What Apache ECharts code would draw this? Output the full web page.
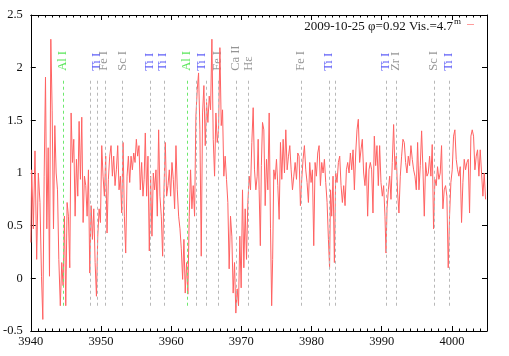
<!DOCTYPE html>
<html><head><meta charset="utf-8">
<script src="https://cdn.jsdelivr.net/npm/echarts@6/dist/echarts.min.js"></script>
<style>html,body{margin:0;padding:0;background:#fff}#c{width:509px;height:356px}</style>
</head><body><div id="c"></div><script>
const wavelength = [
3940.01,3940.25,3940.48,3940.72,3940.96,3941.19,3941.43,3941.62,3941.81,3942.00,3942.19,3942.38,3942.57,3942.76,3942.95,3943.14,3943.33,3943.52,3943.71,3943.90,
3944.09,3944.32,3944.51,3944.70,3944.89,3945.08,3945.27,3945.46,3945.65,3945.84,3946.03,3946.22,3946.41,3946.60,3946.79,3946.98,3947.17,3947.36,3947.55,3947.74,
3947.93,3948.12,3948.31,3948.50,3948.69,3948.88,3949.07,3949.26,3949.45,3949.64,3949.83,3950.02,3950.20,3950.39,3950.58,3950.77,3950.96,3951.15,3951.34,3951.53,
3951.72,3951.91,3952.10,3952.29,3952.48,3952.67,3952.86,3953.05,3953.24,3953.43,3953.62,3953.81,3954.00,3954.19,3954.38,3954.57,3954.76,3954.95,3955.13,3955.32,
3955.51,3955.70,3955.89,3956.08,
3956.22,3956.41,3956.60,3956.79,3956.98,3957.17,3957.36,3957.55,3957.74,3957.93,3958.12,3958.31,3958.50,3958.69,3958.88,3959.07,3959.26,3959.45,3959.64,3959.83,
3960.02,3960.21,3960.40,3960.59,3960.78,3960.97,3961.16,3961.35,3961.54,3961.73,3961.91,3962.10,3962.29,3962.48,3962.67,3962.86,3963.05,3963.24,3963.43,3963.62,
3963.81,3964.00,3964.19,3964.38,3964.57,3964.76,3964.95,3965.14,3965.33,3965.52,3965.71,3965.90,3966.09,3966.28,3966.47,3966.66,3966.85,3967.04,3967.23,3967.41,
3967.60,3967.79,3967.98,3968.17,3968.36,3968.55,3968.74,3968.93,3969.12,3969.31,3969.50,3969.69,3969.88,3970.07,3970.26,3970.45,3970.64,3970.83,3971.02,3971.21,
3971.40,3971.59,3971.78,3971.97,3972.16,3972.35,
3972.44,3972.63,3972.78,3972.92,3973.11,3973.30,3973.49,3973.68,3973.87,3974.06,3974.25,3974.39,3974.53,3974.72,3974.91,3975.10,3975.29,3975.48,3975.67,3975.86,
3976.05,3976.24,3976.43,3976.62,3976.81,3977.00,3977.19,3977.38,3977.57,3977.76,3977.95,3978.13,3978.32,3978.51,3978.70,3978.89,3979.08,3979.27,3979.46,3979.65,
3979.84,3980.03,3980.22,3980.41,3980.60,3980.79,3980.98,3981.17,3981.36,3981.55,3981.74,3981.93,3982.12,3982.31,3982.50,3982.64,3982.78,3982.97,3983.16,3983.35,
3983.54,3983.73,3983.92,3984.11,3984.30,3984.49,3984.68,3984.87,3985.06,3985.25,3985.44,3985.63,3985.82,3986.01,3986.20,3986.39,3986.57,3986.76,3986.95,3987.14,
3987.33,3987.52,3987.71,3987.90,3988.09,3988.28,3988.47,
3988.66,3988.85,3989.04,3989.23,3989.42,3989.61,3989.80,3989.99,3990.18,3990.37,3990.56,3990.66,3990.85,3991.04,3991.23,3991.41,3991.60,3991.79,3991.98,3992.17,
3992.36,3992.55,3992.74,3992.93,3993.12,3993.31,3993.50,3993.69,3993.88,3994.07,3994.26,3994.45,3994.64,3994.83,3995.02,3995.21,3995.40,3995.59,3995.78,3995.97,
3996.16,3996.35,3996.54,3996.73,3996.92,3997.10,3997.29,3997.48,3997.67,3997.86,3998.05,3998.24,3998.43,3998.62,3998.81,3999.00,3999.19,3999.38,3999.57,3999.76,
3999.95,4000.14,4000.33,4000.52,4000.71,4000.90,4001.09,4001.28,4001.47,4001.66,4001.85,4002.04,4002.23,4002.42,4002.61,4002.80,4002.99,4003.18,4003.37,4003.56,
4003.75,4003.94,4004.13,4004.32,4004.51,4004.70,4004.89
];
const flux = [
0.34,1.03,0.47,1.21,0.18,1.00,0.72,0.02,-0.39,0.97,1.91,0.47,1.24,0.02,2.27,1.59,0.47,1.45,1.00,0.84,
0.18,-0.26,0.15,-0.07,0.59,-0.26,0.72,0.59,0.10,1.57,1.10,1.32,0.59,1.13,0.78,1.49,0.94,1.53,0.53,0.97,
0.88,0.59,1.03,0.05,0.69,0.37,0.66,0.15,-0.17,0.40,0.66,0.53,1.26,0.97,0.78,1.16,0.43,0.94,1.16,1.26,
0.97,1.16,0.88,1.03,1.26,0.84,0.97,0.62,1.29,0.59,0.24,0.97,1.16,0.91,1.16,1.03,1.19,1.10,1.32,1.16,
1.26,0.84,1.10,0.78,
0.94,1.38,0.78,1.16,0.26,0.97,0.40,1.00,0.84,1.03,0.59,1.41,0.78,0.59,0.21,0.84,1.29,0.78,0.88,1.03,
0.78,1.10,0.94,0.66,1.26,0.84,0.59,0.47,0.28,-0.01,0.37,-0.14,0.15,-0.15,0.59,1.03,0.66,0.88,0.59,1.54,
1.79,1.95,1.41,0.21,1.57,1.83,1.26,1.67,1.48,1.73,1.60,2.27,1.32,0.97,1.57,1.29,1.41,2.19,1.45,1.60,
0.97,1.16,0.94,0.72,0.09,0.59,0.40,-0.14,0.15,-0.33,-0.10,-0.26,0.40,-0.09,0.84,0.10,0.66,0.18,0.72,0.97,
0.84,1.29,1.62,1.03,0.84,0.97,
1.32,0.84,0.31,1.07,1.48,1.41,0.69,1.13,0.84,1.57,0.47,-0.26,0.18,1.03,0.94,1.13,0.88,0.56,1.29,0.94,
1.32,1.00,1.41,1.03,1.16,1.26,1.03,0.84,0.97,1.10,0.94,1.19,1.16,0.69,0.94,1.13,1.26,1.03,0.91,0.72,
1.10,0.91,1.03,0.31,1.10,0.97,1.19,1.26,0.88,1.10,1.00,1.13,0.91,0.72,0.37,0.10,0.84,0.59,0.97,0.15,
1.00,0.91,1.10,1.16,0.88,0.72,0.88,0.69,1.03,1.10,1.00,1.19,1.03,1.22,0.84,1.19,1.41,1.51,1.10,1.22,
1.32,1.00,0.88,1.10,0.59,1.03,1.10,
1.03,0.62,1.35,1.07,1.26,0.88,1.26,0.91,0.78,0.88,0.59,0.24,0.66,0.84,0.97,0.75,1.10,1.46,1.03,1.16,
0.81,0.62,0.97,1.16,1.32,1.29,1.10,1.00,1.16,1.07,1.26,1.13,1.03,0.97,0.84,1.29,0.84,1.07,1.40,1.03,
0.59,1.10,0.97,1.00,1.16,0.97,1.27,0.47,0.94,0.88,1.06,0.94,1.00,1.26,0.66,0.84,0.88,0.78,0.10,0.59,
0.91,1.03,1.35,1.41,1.13,1.03,0.97,1.06,0.53,0.91,1.13,1.03,1.10,1.13,0.62,1.35,1.41,1.35,1.03,1.16,
1.22,0.97,1.22,1.00,0.78,1.00,0.75
];
// identified line positions (Angstrom) with their element names ('' = unlabelled)
const lineWl = [3944.65,3948.50,3949.40,3950.68,3953.05,3957.08,3958.97,3962.29,3963.62,3965.04,3966.75,3969.22,3970.92,3978.51,3982.59,3983.35,3990.61,3992.03,3997.48,3999.57];
const lineElem = ['Al I','','Ti I','Fe I','Sc I','Ti I','Ti I','Al I','','','Fe I','Ca II','Hε','Fe I','Ti I','','Ti I','Zr I','Sc I','Ti I'];
const lineBottom = -0.26, lineTop = 1.9;
const labelWl = [3944.61,3949.36,3950.44,3953.05,3956.89,3958.83,3962.20,3964.29,3966.66,3969.22,3971.07,3978.42,3982.50,3990.51,3991.98,3997.44,3999.48];
const labelText = ['Al I','Ti I','Fe I','Sc I','Ti I','Ti I','Al I','Ti I','Fe I','Ca II','Hε','Fe I','Ti I','Ti I','Zr I','Sc I','Ti I'];
const labelBase = 1.97;
const legendText = '2009-10-25 φ=0.92 Vis.=4.7';
const legendSup = 'm';

const elemColor = t => t === 'Ti I' ? '#3535f5' : (t === 'Al I' ? '#33e033' : '#7a7a7a');
const lineColor = t => t === 'Al I' ? '#6ee86e' : '#b8b8b8';
const font = 'Liberation Serif';

const chart = echarts.init(document.getElementById('c'), null, {renderer: 'canvas'});
const spec = wavelength.map((w, i) => [w, flux[i]]);
const axCommon = {type: 'value', min: 3940, max: 4005, splitLine: {show: false}};
chart.setOption({
  animation: false,
  backgroundColor: '#fff',
  grid: {left: 29, right: 22, top: 15, bottom: 25},
  xAxis: [
    Object.assign({}, axCommon, {position: 'bottom', interval: 10,
      axisLine: {show: true, onZero: false, lineStyle: {color: '#000', width: 1}},
      axisTick: {show: true, inside: true, length: 5, lineStyle: {color: '#000'}},
      axisLabel: {show: true, showMaxLabel: false, margin: 4, color: '#111', fontFamily: font, fontSize: 12.5,
        formatter: v => String(v)}}),
    Object.assign({}, axCommon, {position: 'top', interval: 10,
      axisLine: {show: true, onZero: false, lineStyle: {color: '#000', width: 1}},
      axisTick: {show: true, inside: true, length: 5, lineStyle: {color: '#000'}},
      axisLabel: {show: false}}),
    Object.assign({}, axCommon, {position: 'bottom', interval: 1,
      axisLine: {show: false, onZero: false},
      axisTick: {show: true, inside: true, length: 2.5, lineStyle: {color: '#000'}},
      axisLabel: {show: false}}),
    Object.assign({}, axCommon, {position: 'top', interval: 1,
      axisLine: {show: false, onZero: false},
      axisTick: {show: true, inside: true, length: 2.5, lineStyle: {color: '#000'}},
      axisLabel: {show: false}})
  ],
  yAxis: [
    {type: 'value', min: -0.5, max: 2.5, interval: 0.5, position: 'left', splitLine: {show: false},
      axisLine: {show: true, onZero: false, lineStyle: {color: '#000', width: 1}},
      axisTick: {show: true, inside: true, length: 5, lineStyle: {color: '#000'}},
      axisLabel: {margin: 8, color: '#111', fontFamily: font, fontSize: 12.5, formatter: v => String(v)}},
    {type: 'value', min: -0.5, max: 2.5, interval: 0.5, position: 'right', splitLine: {show: false},
      axisLine: {show: true, onZero: false, lineStyle: {color: '#000', width: 1}},
      axisTick: {show: true, inside: true, length: 5, lineStyle: {color: '#000'}},
      axisLabel: {show: false}}
  ],
  series: [
    {
      type: 'scatter', xAxisIndex: 0, yAxisIndex: 0, z: 1, silent: true,
      symbolSize: 0,
      data: labelWl.map((w, i) => ({value: [w, labelBase],
        label: {color: elemColor(labelText[i]), formatter: labelText[i]}})),
      label: {show: true, position: 'inside', rotate: 90, align: 'left', verticalAlign: 'middle',
        fontFamily: font, fontSize: 12.5},
      markLine: {
        silent: true, symbol: ['none', 'none'], animation: false,
        label: {show: false},
        lineStyle: {type: [3, 3], width: 1},
        data: lineWl.map((w, i) => [
          {coord: [w, lineBottom], lineStyle: {color: lineColor(lineElem[i]), type: [3, 3], width: 1}},
          {coord: [w, lineTop]}
        ])
      }
    },
    {
      type: 'line', xAxisIndex: 0, yAxisIndex: 0, z: 3, silent: true,
      data: spec, step: 'middle', showSymbol: false, symbol: 'none',
      lineStyle: {color: '#ff6262', width: 1}
    }
  ],
  graphic: [
    {type: 'text', z: 10, style: {x: 453, y: 26.5, text: legendText, fill: '#111',
      font: '13px "Liberation Serif"', align: 'right', verticalAlign: 'middle'}},
    {type: 'text', z: 10, style: {x: 454, y: 22, text: legendSup, fill: '#111',
      font: '9px "Liberation Serif"', align: 'left', verticalAlign: 'middle'}},
    {type: 'line', z: 10, shape: {x1: 467, y1: 24.5, x2: 474, y2: 24.5},
      style: {stroke: '#ff9c9c', lineWidth: 1}}
  ]
});
</script></body></html>
